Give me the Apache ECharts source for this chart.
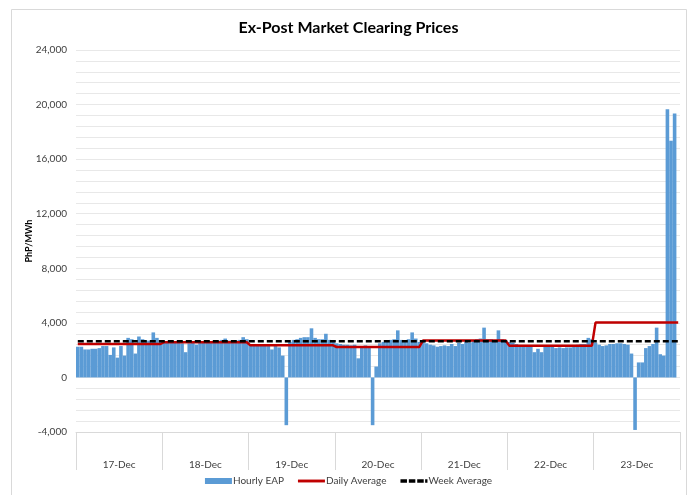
<!DOCTYPE html>
<html>
<head>
<meta charset="utf-8">
<script src="https://cdn.jsdelivr.net/npm/echarts@6/dist/echarts.min.js"></script>
<style>
html,body{margin:0;padding:0;background:#fff;}
#chart{width:697px;height:495px;}
</style>
</head>
<body>
<div id="chart"></div>
<script>
// ---- data ----
const days = ['17-Dec', '18-Dec', '19-Dec', '20-Dec', '21-Dec', '22-Dec', '23-Dec'];
const eapDec17 = [2250, 2250, 2050, 2050, 2100, 2100, 2150, 2300, 2300, 1650, 2200, 1450, 2300, 1600, 2900, 2800, 1750, 3000, 2800, 2700, 2700, 3300, 2900, 2600];
const eapDec18 = [2550, 2600, 2550, 2600, 2550, 2500, 1850, 2500, 2550, 2400, 2550, 2600, 2600, 2650, 2600, 2700, 2750, 2850, 2700, 2650, 2700, 2750, 2950, 2800];
const eapDec19 = [2450, 2400, 2400, 2350, 2400, 2300, 2050, 2300, 2200, 1600, -3500, 2600, 2750, 2800, 2900, 2950, 2950, 3600, 2900, 2800, 2800, 3200, 2750, 2700];
const eapDec20 = [2500, 2450, 2400, 2400, 2350, 2400, 1400, 2300, 2350, 2200, -3500, 800, 2500, 2600, 2700, 2750, 2800, 3450, 2750, 2700, 2800, 3300, 2850, 2600];
const eapDec21 = [2600, 2500, 2400, 2350, 2250, 2300, 2350, 2300, 2450, 2300, 2550, 2450, 2600, 2550, 2650, 2800, 2850, 3650, 2800, 2800, 2750, 3450, 2800, 2750];
const eapDec22 = [2600, 2550, 2450, 2300, 2300, 2350, 2300, 1850, 2100, 1850, 2300, 2250, 2300, 2150, 2200, 2150, 2200, 2200, 2300, 2400, 2450, 2450, 2900, 2800];
const eapDec23 = [2550, 2400, 2300, 2350, 2450, 2450, 2500, 2500, 2450, 2400, 1750, -3850, 1100, 1100, 2150, 2300, 2450, 3650, 1700, 1600, 19650, 17350, 19350, null];
const dailyAverage = [2450, 2580, 2350, 2230, 2700, 2330, 4020];
const weekAverage = 2650;
const yTicks = [-4000, 0, 4000, 8000, 12000, 16000, 20000, 24000];

// ---- build ----
const hourlyByDay = [eapDec17, eapDec18, eapDec19, eapDec20, eapDec21, eapDec22, eapDec23];
const hourCats = [];
const hourly = [];
const dailySeries = [];
const weekSeries = [];
days.forEach((d, i) => {
  hourlyByDay[i].forEach((v, h) => {
    hourCats.push(d + ' ' + (h + 1));
    hourly.push(v);
    dailySeries.push(dailyAverage[i]);
    weekSeries.push(weekAverage);
  });
});

const FONT = 'Lato, "Liberation Sans", Arial, sans-serif';
const chart = echarts.init(document.getElementById('chart'), null, {renderer: 'canvas'});
chart.setOption({
  animation: false,
  backgroundColor: '#ffffff',
  textStyle: {fontFamily: FONT},
  graphic: [{
    type: 'rect', shape: {x: 11.5, y: 9.5, width: 675, height: 500},
    style: {fill: 'none', stroke: '#d9d9d9', lineWidth: 1}, silent: true, z: -1
  }],
  title: {
    text: 'Ex-Post Market Clearing Prices',
    left: 'center', top: 15,
    textStyle: {fontFamily: FONT, fontSize: 16, fontWeight: 'bold', color: '#000'}
  },
  legend: {
    bottom: 4, left: 'center',
    itemWidth: 27, itemHeight: 6, itemGap: 14,
    textStyle: {fontFamily: FONT, fontSize: 10, color: '#404040', padding: [0, 0, 0, -4]},
    data: [
      {name: 'Hourly EAP', icon: 'rect'},
      {name: 'Daily Average', icon: 'path://M0,0L28,0L28,3L0,3Z'},
      {name: 'Week Average', icon: 'path://M0,0h7v3.5H0z M9,0h7v3.5H9z M18,0h7v3.5h-7z M26.5,0h2.5v3.5h-2.5z'}
    ]
  },
  grid: {left: 76, right: 17, top: 50, bottom: 63, containLabel: false},
  xAxis: [{
    type: 'category', data: hourCats, show: false, position: 'bottom',
    boundaryGap: true
  }, {
    type: 'category', data: days, position: 'bottom', boundaryGap: true,
    axisLine: {show: true, onZero: false, lineStyle: {color: '#d9d9d9', width: 1}},
    axisTick: {show: true, length: 38, lineStyle: {color: '#d9d9d9'}},
    axisLabel: {margin: 28, fontFamily: FONT, fontSize: 10, color: '#404040'},
    splitLine: {show: false}
  }],
  yAxis: {
    type: 'value', min: -4000, max: 24000, interval: 800,
    name: 'PhP/MWh', nameLocation: 'middle', nameGap: 42, nameRotate: 90,
    nameMoveOverlap: false,
    nameTextStyle: {fontFamily: FONT, fontSize: 9, fontWeight: 'bold', color: '#000'},
    axisLine: {show: false}, axisTick: {show: false},
    axisLabel: {
      fontFamily: FONT, fontSize: 10, color: '#404040', margin: 9,
      formatter: v => (yTicks.indexOf(v) >= 0 ? v.toLocaleString('en-US') : '')
    },
    splitLine: {lineStyle: {color: '#e8e8e8', width: 1}}
  },
  series: [{
    name: 'Hourly EAP', type: 'bar', xAxisIndex: 0, data: hourly,
    barCategoryGap: '0%',
    itemStyle: {color: '#5b9bd5'}
  }, {
    name: 'Daily Average', type: 'line', xAxisIndex: 0, data: dailySeries,
    symbol: 'none', lineStyle: {color: '#c00000', width: 2.5}, itemStyle: {color: '#c00000'}
  }, {
    name: 'Week Average', type: 'line', xAxisIndex: 0, data: weekSeries,
    symbol: 'none', lineStyle: {color: '#000000', width: 2.5, type: [6, 3]}, itemStyle: {color: '#000000'}
  }]
});
</script>
</body>
</html>
